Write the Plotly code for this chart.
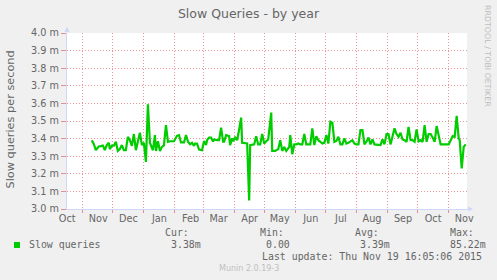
import plotly.graph_objects as go

# ---------------- data ----------------
dates = [
    "2014-11-10", "2014-11-12", "2014-11-14", "2014-11-17", "2014-11-19", "2014-11-21", "2014-11-23",
    "2014-11-25", "2014-11-27", "2014-11-28", "2014-11-30", "2014-12-02", "2014-12-04", "2014-12-06",
    "2014-12-08", "2014-12-10", "2014-12-12", "2014-12-14", "2014-12-16", "2014-12-18", "2014-12-20",
    "2014-12-22", "2014-12-24", "2014-12-26", "2014-12-28", "2014-12-30", "2015-01-01", "2015-01-03",
    "2015-01-05", "2015-01-07", "2015-01-08", "2015-01-10", "2015-01-12", "2015-01-13", "2015-01-15",
    "2015-01-17", "2015-01-19", "2015-01-21", "2015-01-23", "2015-01-25", "2015-01-27", "2015-01-31",
    "2015-02-03", "2015-02-05", "2015-02-07", "2015-02-10", "2015-02-12", "2015-02-14", "2015-02-16",
    "2015-02-18", "2015-02-20", "2015-02-21", "2015-02-23", "2015-02-25", "2015-02-28", "2015-03-02",
    "2015-03-04", "2015-03-05", "2015-03-07", "2015-03-09", "2015-03-11", "2015-03-12", "2015-03-15",
    "2015-03-17", "2015-03-19", "2015-03-21", "2015-03-22", "2015-03-24", "2015-03-27", "2015-03-28",
    "2015-03-30", "2015-03-31", "2015-04-02", "2015-04-04", "2015-04-06", "2015-04-08", "2015-04-09",
    "2015-04-11", "2015-04-14", "2015-04-16", "2015-04-17", "2015-04-21", "2015-04-23", "2015-04-25",
    "2015-04-27", "2015-04-29", "2015-05-01", "2015-05-03", "2015-05-05", "2015-05-08", "2015-05-09",
    "2015-05-12", "2015-05-15", "2015-05-17", "2015-05-19", "2015-05-21", "2015-05-23", "2015-05-26",
    "2015-05-27", "2015-05-29", "2015-05-31", "2015-06-02", "2015-06-04", "2015-06-06", "2015-06-08",
    "2015-06-10", "2015-06-12", "2015-06-14", "2015-06-16", "2015-06-18", "2015-06-20", "2015-06-22",
    "2015-06-24", "2015-06-26", "2015-06-28", "2015-06-30", "2015-07-02", "2015-07-04", "2015-07-06",
    "2015-07-08", "2015-07-10", "2015-07-12", "2015-07-14", "2015-07-16", "2015-07-18", "2015-07-20",
    "2015-07-22", "2015-07-24", "2015-07-26", "2015-07-28", "2015-07-30", "2015-08-01", "2015-08-03",
    "2015-08-05", "2015-08-07", "2015-08-09", "2015-08-11", "2015-08-13", "2015-08-15", "2015-08-17",
    "2015-08-19", "2015-08-21", "2015-08-23", "2015-08-25", "2015-08-27", "2015-08-29", "2015-08-31",
    "2015-09-02", "2015-09-04", "2015-09-06", "2015-09-08", "2015-09-10", "2015-09-12", "2015-09-14",
    "2015-09-16", "2015-09-18", "2015-09-20", "2015-09-22", "2015-09-24", "2015-09-26", "2015-09-28",
    "2015-09-30", "2015-10-02", "2015-10-04", "2015-10-06", "2015-10-08", "2015-10-10", "2015-10-12",
    "2015-10-14", "2015-10-16", "2015-10-18", "2015-10-20", "2015-10-22", "2015-10-24", "2015-10-26",
    "2015-10-28", "2015-10-30", "2015-11-01", "2015-11-03", "2015-11-05", "2015-11-07", "2015-11-09",
    "2015-11-11", "2015-11-12", "2015-11-14", "2015-11-15", "2015-11-16", "2015-11-18",
]

values = [
    3.390, 3.370, 3.335, 3.355, 3.357, 3.360, 3.335,
    3.363, 3.376, 3.340, 3.360, 3.360, 3.382, 3.330,
    3.340, 3.363, 3.334, 3.334, 3.410, 3.391, 3.359,
    3.426, 3.334, 3.376, 3.433, 3.363, 3.376, 3.267,
    3.595, 3.376, 3.363, 3.334, 3.420, 3.330, 3.385,
    3.330, 3.353, 3.361, 3.477, 3.382, 3.385, 3.385,
    3.416, 3.420, 3.378, 3.378, 3.420, 3.382, 3.368,
    3.376, 3.359, 3.372, 3.372, 3.338, 3.334, 3.387,
    3.363, 3.391, 3.406, 3.406, 3.384, 3.395, 3.391,
    3.391, 3.462, 3.382, 3.382, 3.420, 3.414, 3.363,
    3.401, 3.385, 3.406, 3.391, 3.452, 3.519, 3.376,
    3.376, 3.372, 3.049, 3.363, 3.367, 3.414, 3.367,
    3.367, 3.426, 3.372, 3.385, 3.395, 3.548, 3.330,
    3.330, 3.340, 3.391, 3.330, 3.353, 3.330, 3.353,
    3.420, 3.311, 3.367, 3.367, 3.372, 3.367, 3.367,
    3.426, 3.367, 3.367, 3.367, 3.458, 3.363, 3.414,
    3.391, 3.382, 3.372, 3.376, 3.420, 3.372, 3.496,
    3.490, 3.382, 3.387, 3.410, 3.367, 3.367, 3.401,
    3.372, 3.376, 3.382, 3.391, 3.372, 3.367, 3.367,
    3.448, 3.448, 3.367, 3.382, 3.406, 3.367, 3.395,
    3.367, 3.367, 3.363, 3.363, 3.395, 3.367, 3.426,
    3.426, 3.367, 3.420, 3.458, 3.426, 3.410, 3.433,
    3.395, 3.391, 3.382, 3.467, 3.391, 3.391, 3.382,
    3.452, 3.385, 3.391, 3.382, 3.477, 3.382, 3.426,
    3.426, 3.406, 3.382, 3.471, 3.420, 3.367, 3.367,
    3.367, 3.367, 3.367, 3.391, 3.414, 3.410, 3.529,
    3.401, 3.391, 3.230, 3.296, 3.353, 3.367,
]

month_starts = [
    "2014-11-01", "2014-12-01", "2015-01-01", "2015-02-01", "2015-03-01", "2015-04-01", "2015-05-01",
    "2015-06-01", "2015-07-01", "2015-08-01", "2015-09-01", "2015-10-01", "2015-11-01",
]
label_dates = [
    "2014-10-16 12:00", "2014-11-16 12:00", "2014-12-16 12:00", "2015-01-16 12:00", "2015-02-16 12:00",
    "2015-03-16 12:00", "2015-04-16 12:00", "2015-05-16 12:00", "2015-06-16 12:00", "2015-07-16 12:00",
    "2015-08-16 12:00", "2015-09-16 12:00", "2015-10-16 12:00", "2015-11-16 12:00",
]
month_labels = ["Oct", "Nov", "Dec", "Jan", "Feb", "Mar", "Apr", "May", "Jun", "Jul", "Aug", "Sep", "Oct", "Nov"]
x_range = ["2014-10-16 07:00", "2015-11-19 07:00"]

y_ticks = [3.0, 3.1, 3.2, 3.3, 3.4, 3.5, 3.6, 3.7, 3.8, 3.9, 4.0]
y_ticktext = [f"{v:.1f} m" for v in y_ticks]
y_range = [3.0, 4.0]

title_text = "Slow Queries - by year"
y_title = "Slow queries per second"
series_name = "Slow queries"
stat_labels = ["Cur:", "Min:", "Avg:", "Max:"]
stat_values = ["3.38m", "0.00", "3.39m", "85.22m"]
last_update = "Last update: Thu Nov 19 16:05:06 2015"
footer = "Munin 2.0.19-3"
watermark = "RRDTOOL / TOBI OETIKER"

# ---------------- style / layout ----------------
W, H = 497, 280
L, R, T, B = 67, 30, 33, 71
PW, PH = W - L - R, H - T - B
FONT_COL = "#666666"
AXIS_COL = "#cfd6f8"
GRID_COL = "rgba(222,80,80,0.6)"
LINE_COL = "#00cc00"
SANS = "DejaVu Sans"
MONO = "DejaVu Sans Mono"


def px(x):
    return (x - L) / PW


def py(y):
    return (H - B - y) / PH


fig = go.Figure()
fig.add_trace(go.Scatter(x=dates, y=values, mode="lines", name=series_name,
                         line=dict(color=LINE_COL, width=2.2), showlegend=False,
                         hoverinfo="skip"))

annotations = []
# y-axis title
annotations.append(dict(text=y_title, xref="paper", yref="paper", x=px(10.5), y=py(120),
                        textangle=-90, showarrow=False, xanchor="center", yanchor="middle",
                        font=dict(family=SANS, size=11.3, color=FONT_COL)))
# watermark
annotations.append(dict(text=watermark, xref="paper", yref="paper", x=px(488), y=py(56),
                        textangle=90, showarrow=False, xanchor="center", yanchor="middle",
                        font=dict(family=SANS, size=7.9, color="#bdbdbd")))
# legend rows
label_cols = [163, 258, 353, 448]
value_cols = [169, 264, 358, 448]
for lab, col in zip(stat_labels, label_cols):
    annotations.append(dict(text=lab, xref="paper", yref="paper", x=px(col), y=py(232.5),
                            showarrow=False, xanchor="left", yanchor="middle",
                            font=dict(family=MONO, size=9.9, color=FONT_COL)))
for val, col in zip(stat_values, value_cols):
    annotations.append(dict(text=val, xref="paper", yref="paper", x=px(col), y=py(244.5),
                            showarrow=False, xanchor="left", yanchor="middle",
                            font=dict(family=MONO, size=9.9, color=FONT_COL)))
annotations.append(dict(text=series_name, xref="paper", yref="paper", x=px(27), y=py(244.5),
                        showarrow=False, xanchor="left", yanchor="middle",
                        font=dict(family=MONO, size=9.9, color=FONT_COL)))
annotations.append(dict(text=last_update, xref="paper", yref="paper", x=px(483.5), y=py(256.8),
                        showarrow=False, xanchor="right", yanchor="middle",
                        font=dict(family=MONO, size=9.9, color=FONT_COL)))
annotations.append(dict(text=footer, xref="paper", yref="paper", x=px(248.5), y=py(268.5),
                        showarrow=False, xanchor="center", yanchor="middle",
                        font=dict(family=SANS, size=8, color="#c0c0c0")))
# axis arrows
annotations.append(dict(text="", xref="paper", yref="paper", x=px(67), y=py(27), ax=0, ay=7,
                        showarrow=True, arrowhead=2, arrowsize=1, arrowwidth=1, arrowcolor=AXIS_COL))
annotations.append(dict(text="", xref="paper", yref="paper", x=px(473), y=py(209), ax=-7, ay=0,
                        showarrow=True, arrowhead=2, arrowsize=1, arrowwidth=1, arrowcolor=AXIS_COL))

shapes = [
    # legend swatch
    dict(type="rect", xref="paper", yref="paper", x0=px(14), x1=px(20), y0=py(248), y1=py(242),
         fillcolor=LINE_COL, line=dict(width=0)),
]

fig.update_layout(
    width=W, height=H,
    margin=dict(l=L, r=R, t=T, b=B, pad=0),
    paper_bgcolor="#f0f0f0",
    plot_bgcolor="#ffffff",
    title=dict(text=title_text, x=0.5, xref="container", xanchor="center",
               y=1 - 13.5 / H, yref="container", yanchor="middle",
               font=dict(family=SANS, size=12.5, color=FONT_COL)),
    showlegend=False,
    annotations=annotations,
    shapes=shapes,
    xaxis=dict(
        type="date", range=x_range, tickmode="array", tickvals=label_dates, ticktext=month_labels,
        ticks="", showgrid=False, showline=True, linecolor=AXIS_COL, linewidth=1, zeroline=False,
        tickfont=dict(family=SANS, size=9.7, color=FONT_COL),
        minor=dict(tickmode="array", tickvals=month_starts, showgrid=True, gridcolor=GRID_COL,
                   griddash="1px,2px", gridwidth=1, ticks="outside", ticklen=3, tickwidth=1,
                   tickcolor=GRID_COL),
    ),
    yaxis=dict(
        range=y_range, tickmode="array", tickvals=y_ticks, ticktext=y_ticktext,
        showgrid=True, gridcolor=GRID_COL, griddash="1px,2px", gridwidth=1,
        ticks="outside", ticklen=5, tickwidth=1, tickcolor=GRID_COL,
        showline=True, linecolor=AXIS_COL, linewidth=1, zeroline=False,
        tickfont=dict(family=SANS, size=9.7, color=FONT_COL),
    ),
)

fig.write_html("out.html")
